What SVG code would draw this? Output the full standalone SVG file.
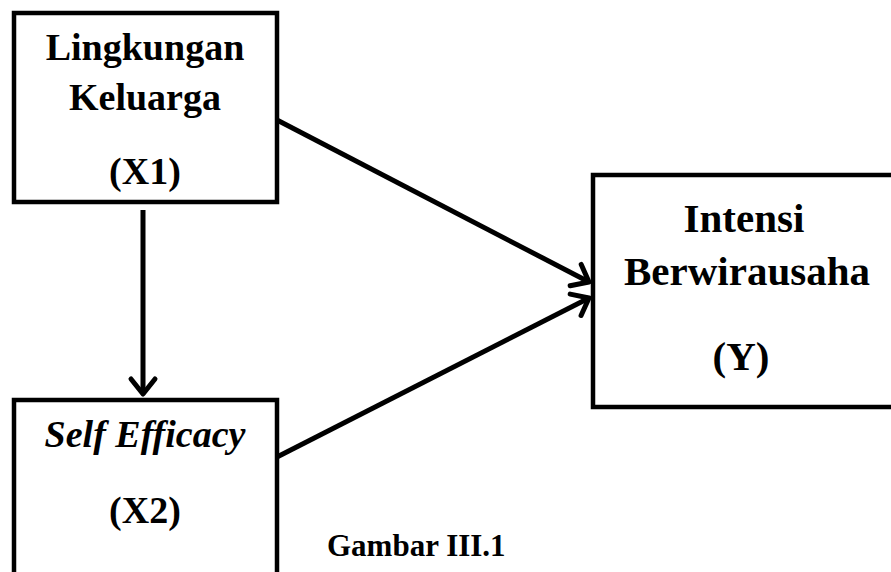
<svg xmlns="http://www.w3.org/2000/svg" width="891" height="572" viewBox="0 0 891 572">
  <defs>
    <style>
      .box { fill: #ffffff; stroke: #000000; stroke-width: 4.5; }
      .t { font-family: "Liberation Serif", "Times New Roman", serif; font-weight: bold; fill: #000000; text-anchor: middle; }
      .c { stroke: #000000; stroke-width: 5; fill: none; }
    </style>
    <marker id="ah" markerUnits="userSpaceOnUse" viewBox="-22 -16 26 32" refX="0" refY="0" markerWidth="26" markerHeight="32" orient="auto" overflow="visible">
      <path d="M-15,-12 L0,0 L-15,12" fill="none" stroke="#000" stroke-width="5" stroke-linecap="round" stroke-linejoin="round"/>
    </marker>
  </defs>
  <rect width="891" height="572" fill="#ffffff"/>

  <g id="node-x1">
    <rect class="box" x="14" y="13" width="263" height="189"/>
    <text class="t" x="145" y="60" font-size="38">Lingkungan</text>
    <text class="t" x="145" y="110" font-size="38">Keluarga</text>
    <text class="t" x="145" y="184" font-size="38">(X1)</text>
  </g>

  <g id="node-x2">
    <rect class="box" x="14" y="400" width="263" height="200"/>
    <text class="t" x="145" y="447" font-size="38" font-style="italic">Self Efficacy</text>
    <text class="t" x="145" y="523" font-size="38">(X2)</text>
  </g>

  <g id="node-y">
    <rect class="box" x="593" y="175" width="320" height="232"/>
    <text class="t" x="744" y="232" font-size="41">Intensi</text>
    <text class="t" x="747" y="285" font-size="41">Berwirausaha</text>
    <text class="t" x="741" y="370" font-size="41">(Y)</text>
  </g>

  <g id="connectors">
    <line class="c" x1="143" y1="210" x2="143" y2="394" marker-end="url(#ah)"/>
    <line class="c" x1="277" y1="120" x2="589" y2="282" marker-end="url(#ah)"/>
    <line class="c" x1="277" y1="457" x2="589" y2="298" marker-end="url(#ah)"/>
  </g>

  <text id="caption" class="t" x="327" y="556" font-size="31" style="text-anchor:start">Gambar III.1</text>
</svg>
